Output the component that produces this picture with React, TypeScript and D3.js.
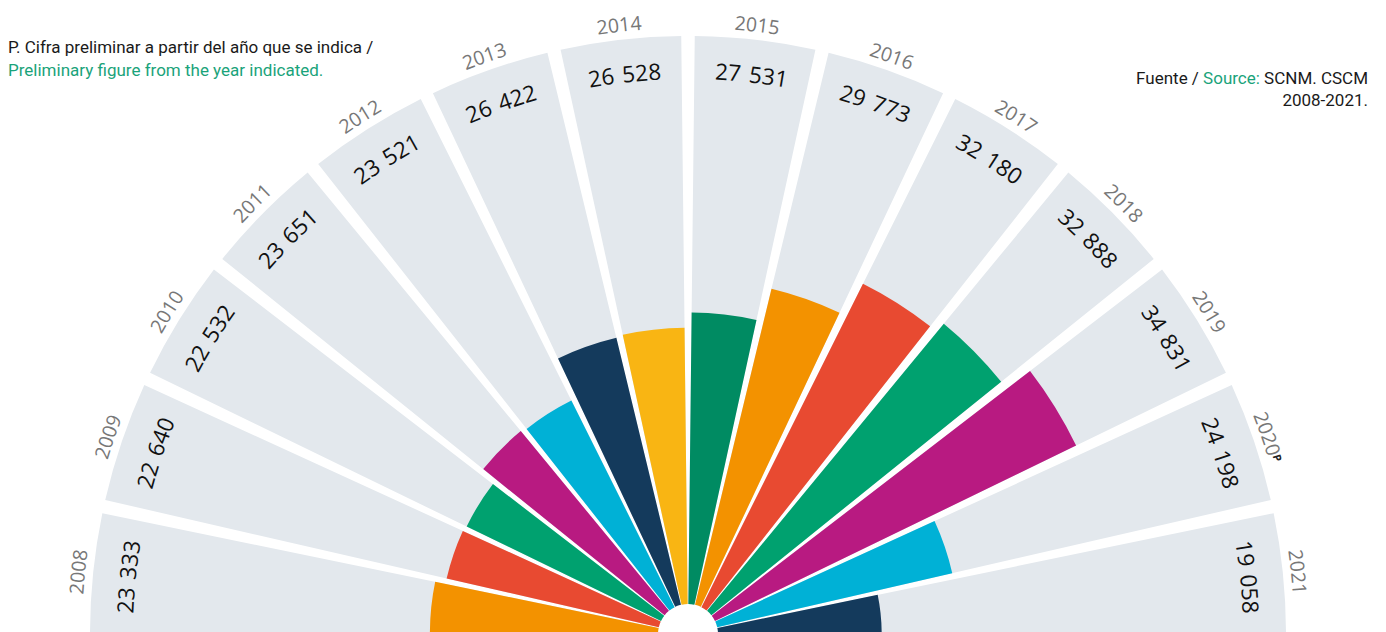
import React from 'react';
import * as d3 from 'd3';

const years = ['2008', '2009', '2010', '2011', '2012', '2013', '2014', '2015', '2016', '2017', '2018', '2019', '2020', '2021'];
const values = [23333, 22640, 22532, 23651, 23521, 26422, 26528, 27531, 29773, 32180, 32888, 34831, 24198, 19058];
const colors = ['#f39200', '#e84a31', '#00a16f', '#b81a81', '#00b1d6', '#143a5c', '#f9b513', '#008b62', '#f39200', '#e84a31', '#00a16f', '#b81a81', '#00b1d6', '#143a5c'];
const preliminary = ['2020'];

const W = 1386;
const H = 632;
const cx = 688;
const cy = 634;
const inner = 30;
const outer = 598;
const yearR = 606;
const valueR = 555;

const fmt = (v: number) => d3.format(',')(v).replace(',', ' ');

export default function App() {
  const angle = d3.scaleBand<string>().domain(years).range([-Math.PI / 2, Math.PI / 2]).paddingInner(0.1).paddingOuter(0);
  const radius = d3.scaleLinear().domain([8200, 35000]).range([inner, 434]);
  const arc = d3.arc<any>();

  // arc running clockwise from the left end to the right end, for text on a path
  const circlePath = (r: number) => `M${-r},0 A${r},${r} 0 0 1 ${r},0`;
  const mid = (y: string) => (angle(y) as number) + angle.bandwidth() / 2;

  return (
    <svg width={W} height={H} style={{ position: 'absolute', left: 0, top: 0, fontFamily: "Roboto, sans-serif" }}>
      <defs>
        <path id="yearPath" d={circlePath(yearR)} />
        <path id="valuePath" d={circlePath(valueR)} />
      </defs>
      <g transform={`translate(${cx},${cy})`}>
        {years.map((y) => (
          <path
            key={'bg' + y}
            fill="#e3e8ed"
            d={arc({ innerRadius: inner, outerRadius: outer, startAngle: angle(y), endAngle: (angle(y) as number) + angle.bandwidth() }) as string}
          />
        ))}
        {years.map((y, i) => (
          <path
            key={'bar' + y}
            fill={colors[i]}
            d={arc({ innerRadius: inner, outerRadius: radius(values[i]), startAngle: angle(y), endAngle: (angle(y) as number) + angle.bandwidth() }) as string}
          />
        ))}
        {years.map((y) => (
          <text key={'yl' + y} fontFamily="'Open Sans', sans-serif" fontSize={19.5} fill="#777">
            <textPath href="#yearPath" startOffset={yearR * (mid(y) + Math.PI / 2)} textAnchor="middle">
              {y}
              {preliminary.includes(y) && (
                <tspan fontSize={11} fontWeight="bold" fill="#222" dy={-5}>P</tspan>
              )}
            </textPath>
          </text>
        ))}
        {years.map((y, i) => (
          <text key={'vl' + y} fontFamily="'Open Sans', sans-serif" fontSize={22.5} fill="#111" wordSpacing={2}>
            <textPath href="#valuePath" startOffset={valueR * (mid(y) + Math.PI / 2)} textAnchor="middle">
              {fmt(values[i])}
            </textPath>
          </text>
        ))}
      </g>
      <text x={8} y={53} fontSize={17} fill="#1a1a1a">P. Cifra preliminar a partir del año que se indica /</text>
      <text x={8} y={76} fontSize={17} fill="#1aa37a">Preliminary figure from the year indicated.</text>
      <text x={1368} y={84} fontSize={17} fill="#1a1a1a" textAnchor="end">
        Fuente / <tspan fill="#1aa37a">Source:</tspan> SCNM. CSCM
      </text>
      <text x={1368} y={106} fontSize={17} fill="#1a1a1a" textAnchor="end">2008-2021.</text>
    </svg>
  );
}
